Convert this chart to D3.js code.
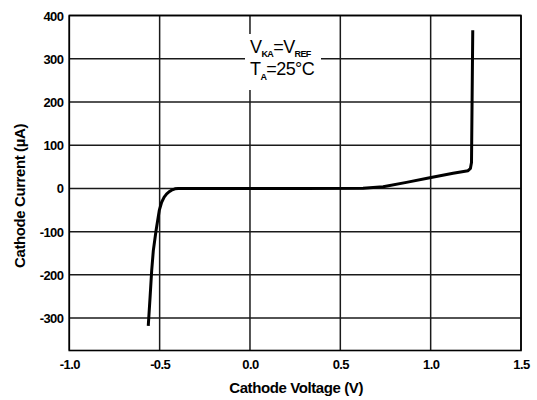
<!DOCTYPE html>
<html><head><meta charset="utf-8">
<script src="https://cdn.jsdelivr.net/npm/d3@7"></script>
<style>
body{margin:0;background:#fff;}
text{font-family:"Liberation Sans",Arial,sans-serif;fill:#000;}
</style></head>
<body>
<svg id="c" width="537" height="400"></svg>
<script>
// Data
const voltage = [-0.563,-0.553,-0.544,-0.535,-0.520,-0.502,-0.489,-0.475,-0.461,-0.445,-0.434,-0.415,-0.397,0.0,0.3,0.626,0.737,0.866,0.995,1.124,1.207,1.220,1.226,1.233];
const current = [-318,-252,-190,-144,-98,-51,-32,-20,-12.5,-7,-4,-1,0,0,0,0.5,4,14,24.5,35,41,46,60,366];
const xTicks = [-1.0,-0.5,0.0,0.5,1.0,1.5];
const yTicks = [-300,-200,-100,0,100,200,300,400];
const xDomain = [-1.0,1.5];
const yDomain = [-375,400];
const xTitle = "Cathode Voltage (V)";
const yTitle = "Cathode Current (µA)";

const svg = d3.select("#c");
const L=69.3, R=521, T=15.5, B=350.5;
const x = d3.scaleLinear().domain(xDomain).range([L,R]);
const y = d3.scaleLinear().domain(yDomain).range([B,T]);

const g = svg.append("g");
// gridlines
g.selectAll("line.vx").data(xTicks).join("line")
  .attr("x1",d=>x(d)).attr("x2",d=>x(d)).attr("y1",T).attr("y2",B)
  .attr("stroke","#1a1a1a").attr("stroke-width",1.5);
g.selectAll("line.hy").data(yTicks).join("line")
  .attr("x1",L).attr("x2",R).attr("y1",d=>y(d)).attr("y2",d=>y(d))
  .attr("stroke","#1a1a1a").attr("stroke-width",1.5);
// frame
g.append("rect").attr("x",L).attr("y",T).attr("width",R-L).attr("height",B-T)
  .attr("fill","none").attr("stroke","#000").attr("stroke-width",1.6);

// annotation box
g.append("rect").attr("x",245).attr("y",34).attr("width",76).attr("height",56).attr("fill","#fff");
const ann = g.append("g").style("font-size","18px").style("font-weight","normal");
const t1 = ann.append("text").attr("x",250).attr("y",53).style("letter-spacing","-0.6px");
t1.append("tspan").text("V");
t1.append("tspan").text("KA").attr("dy",4).style("font-size","9px").style("font-weight","bold");
t1.append("tspan").text("=V").attr("dy",-4);
t1.append("tspan").text("REF").attr("dy",4).style("font-size","9px").style("font-weight","bold");
const t2 = ann.append("text").attr("x",250).attr("y",75).style("letter-spacing","-0.6px");
t2.append("tspan").text("T");
t2.append("tspan").text("A").attr("dy",5).style("font-size","9px").style("font-weight","bold");
t2.append("tspan").text("=25°C").attr("dy",-5);

// curve
const pts = voltage.map((v,i)=>[v,current[i]]);
g.append("path").datum(pts)
  .attr("d",d3.line().x(d=>x(d[0])).y(d=>y(d[1])))
  .attr("fill","none").attr("stroke","#000").attr("stroke-width",3).attr("stroke-linejoin","round");

// axes (labels only)
const xa = d3.axisBottom(x).tickValues(xTicks).tickFormat(d=>d.toFixed(1)).tickSize(0).tickPadding(0);
const xg = svg.append("g").attr("transform",`translate(0,${B})`).call(xa);
xg.select(".domain").remove();
xg.selectAll("text").attr("dy",null).attr("y",18).style("font-size","13px").style("font-weight","bold").style("letter-spacing","-0.6px");

const ya = d3.axisLeft(y).tickValues(yTicks).tickFormat(d=>String(d)).tickSize(0).tickPadding(0);
const yg = svg.append("g").attr("transform",`translate(${L-6},0)`).call(ya);
yg.select(".domain").remove();
yg.selectAll("text").attr("x",0).attr("dy","0.35em").style("font-size","13px").style("font-weight","bold").style("letter-spacing","-0.6px");

svg.append("text").attr("x",(L+R)/2+1).attr("y",393).attr("text-anchor","middle")
  .style("font-size","15px").style("font-weight","bold").style("letter-spacing","-0.4px").text(xTitle);
svg.append("text").attr("transform","translate(25,196) rotate(-90)").attr("text-anchor","middle")
  .style("font-size","15px").style("font-weight","bold").style("letter-spacing","-0.4px").text(yTitle);
</script>
</body></html>
